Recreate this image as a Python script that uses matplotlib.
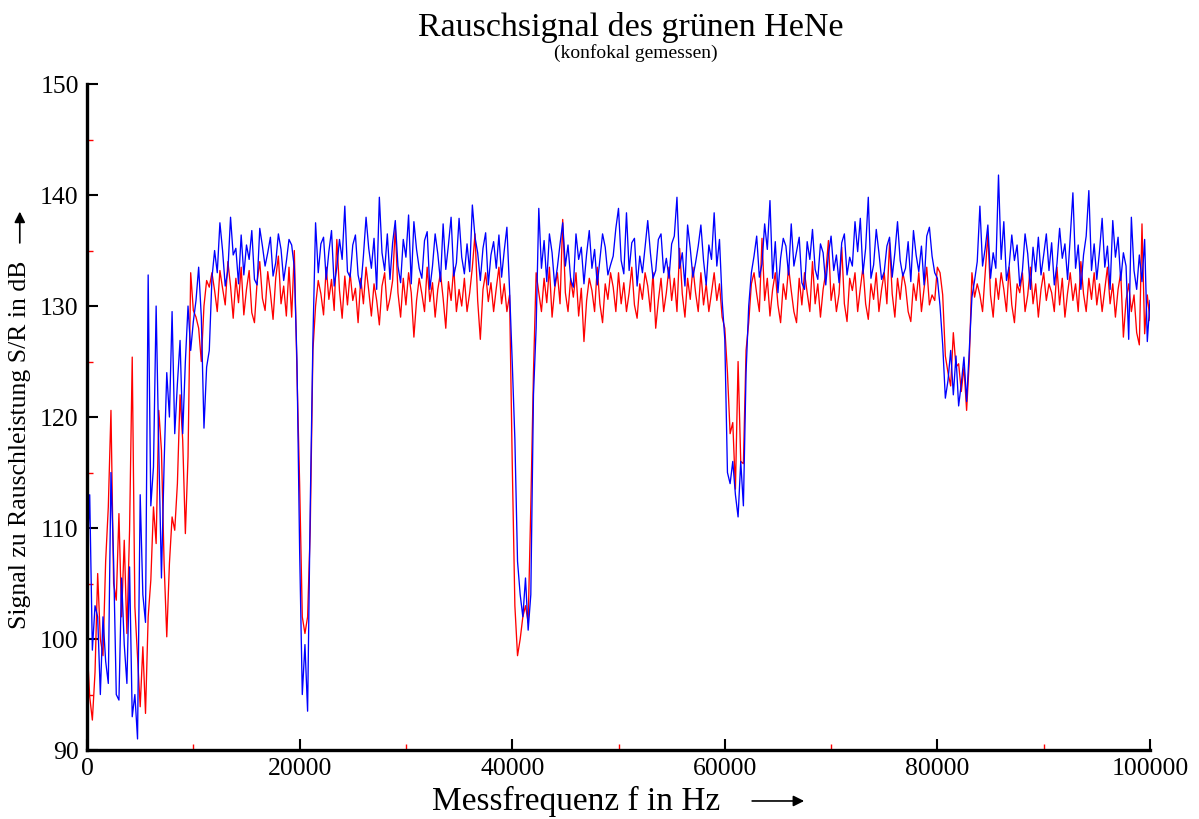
import numpy as np
import matplotlib
matplotlib.use("Agg")
import matplotlib.pyplot as plt
from matplotlib.ticker import MultipleLocator

plt.rcParams['font.family'] = ['Liberation Serif', 'DejaVu Serif']

# Messfrequenz in Hz, Schrittweite 250 Hz
freq = np.arange(0, 100001, 250)

# blaue Messreihe (S/R in dB), je Zeile 5000 Hz
blau = [
    107, 113, 99, 103, 102, 95, 102, 98, 96, 115, 107, 95, 94.5, 105.5, 99.5, 96, 106.5, 93, 95, 91,
    113, 104, 101.5, 132.8, 112, 115.5, 130, 117, 105.5, 115.8, 124, 120, 129.5, 118.5, 123, 126.9, 118.5, 125, 130, 126,
    128.6, 130.5, 133.5, 129, 119, 124.5, 126, 132.5, 135, 133, 137.5, 135, 131.8, 133.2, 138, 134.6, 135.2, 132, 136.4, 132.8,
    135.5, 134.2, 136.8, 132.4, 131.9, 137, 135.4, 133.6, 134.8, 136.2, 132.7, 133.9, 136.5, 135.1, 132.3, 134, 136, 135.5, 133.5, 125,
    108, 95, 99.5, 93.5, 112, 127, 137.5, 133, 135.6, 136.2, 132.4, 134.9, 136.8, 131.8, 133.5, 136, 134.2, 139, 133.1, 132.6,
    135.5, 136.4, 132.8, 131.6, 134.5, 138, 135.2, 133.4, 136.1, 131.5, 139.8, 134.8, 133.2, 136.5, 132.4, 135.7, 137.7, 133.6, 132.1, 136,
    134.4, 138.2, 132, 137.6, 135.1, 133.4, 132.5, 135.9, 136.7, 131.5, 133.6, 136.5, 134.7, 132.2, 137.4, 133.3, 135.5, 138, 132.7, 133.9,
    137.9, 134.4, 132.9, 135.6, 133.1, 139.1, 136.2, 134.8, 132.3, 135.2, 136.6, 131.9, 134.6, 135.8, 133.4, 136.4, 132.6, 135, 137.1, 131.5,
    125, 118, 107, 104, 102, 105.5, 100.8, 104, 122, 128, 138.8, 133.4, 135.9, 132.2, 136.5, 134.8, 131.8, 133.5, 135.6, 137.5,
    133.6, 135.5, 132.4, 131.7, 136.5, 134.2, 135.3, 132, 134.7, 136.8, 133.4, 135.1, 131.9, 134.2, 136.5, 135.3, 132.8, 133.7, 134.5, 137,
    138.8, 134.1, 132.9, 138.4, 133.2, 135.7, 136.1, 131.8, 134.5, 133, 135.3, 137.7, 134.8, 132.5, 133.2, 136, 136.5, 133, 134.3, 132.5,
    135.6, 136.3, 139.8, 133.4, 134.8, 131.8, 137.3, 135.2, 132.6, 133.9, 135.4, 137.3, 134.1, 131.9, 135.5, 134.2, 138.4, 133.6, 136, 130.5,
    127, 115, 114, 116, 113, 111, 116, 112, 124, 130, 133, 134.5, 136.3, 132.6, 133.8, 137.4, 135.1, 139.5, 132.5, 135.8,
    131.2, 134.3, 136.1, 135.4, 132.8, 137.4, 133.6, 134.9, 136.2, 132.1, 131.5, 135.8, 134.2, 136.9, 133.3, 132.4, 135.6, 134.8, 131.9, 134.7,
    136.3, 133.2, 134.6, 132.1, 135.7, 136.5, 132.8, 134.4, 133.6, 137.6, 134.9, 137.9, 132.9, 135.2, 139.8, 132.5, 133.7, 136.9, 134.8, 132.4,
    133.1, 135.4, 136.2, 132.6, 134.8, 137.6, 134.1, 132.7, 133.4, 135.8, 132.2, 136.8, 134.6, 133.1, 135.4, 131.9, 136.3, 137.1, 134.5, 133,
    132.5, 130, 126.5, 121.7, 123.3, 126, 122, 125.5, 121, 123, 125.4, 121.4, 126, 130.8, 132.3, 134, 139, 133.6, 135.2, 137.3,
    132.5, 134.8, 133.4, 141.8, 134.2, 137.6, 132.3, 133.6, 136.4, 134.1, 135.5, 131.8, 133.2, 136.5, 134.7, 131.5, 135.3, 133.1, 136.2, 132.8,
    134.6, 136.5, 133.2, 135.7, 131.9, 133.8, 137, 134.3, 135.6, 132.4, 136.2, 140.2, 133.4, 135.5, 131.5, 134.6, 136.3, 140.4, 133.2, 135.6,
    132.4, 134.9, 137.9, 133.5, 135.4, 131.5, 137.7, 134.4, 136.2, 132.3, 134.8, 133.6, 127, 138, 133.2, 131.5, 134.6, 132.2, 136, 126.8,
    130.5,
]

# rote Messreihe (S/R in dB)
rot = [
    99.5, 94.8, 92.7, 97, 105.9, 100, 98.5, 107, 111.9, 120.6, 105, 103.5, 111.3, 102, 108.9, 100.5, 109.8, 125.4, 102.9, 98.4,
    93.9, 99.3, 93.3, 102, 105.3, 111.9, 108.6, 120.6, 117, 106.8, 100.2, 106.8, 111, 109.8, 114, 122, 117.9, 109.5, 116.4, 133,
    129.6, 129, 128, 125, 130, 132.3, 131.7, 133, 131.4, 129.5, 133.2, 131.6, 130.1, 134, 131.8, 128.9, 132.5, 130.3, 133.5, 129.2,
    131.5, 133.2, 129.4, 128.5, 132.2, 134, 130.7, 129.6, 133.1, 131.2, 128.8, 132.5, 134.5, 130.2, 131.8, 129.1, 133.5, 129, 135, 124,
    114, 102, 100.5, 102, 110, 126, 130, 132.3, 131.1, 129.2, 133.5, 130.6, 132.4, 129.6, 136, 131.4, 128.9, 132.7, 130.1, 133,
    130.5, 131.6, 128.5, 132.5, 130.2, 133.5, 131.4, 129.1, 132, 130.5, 128.3, 131.8, 133, 129.6, 130.7, 132.3, 137.1, 131.2, 129, 132.5,
    130.1, 133, 131.2, 127.2, 130.5, 132.5, 131.1, 129.5, 133.5, 130.4, 132.1, 129, 131.5, 133, 130.7, 128, 132.2, 130.5, 133.5, 129.5,
    131.5, 130, 132.5, 129.5, 131.2, 133.5, 136.5, 130.5, 127, 131.5, 133, 130.4, 132.1, 129.5, 131.6, 133.5, 130.2, 132, 129.5, 131,
    116, 103, 98.5, 100, 102, 103, 101.5, 112, 124, 133, 131.2, 129.5, 132.5, 130.3, 133.5, 129, 131.6, 133, 130.2, 137.8,
    131.2, 129.5, 132.5, 130.8, 133, 129.1, 131.6, 126.8, 130.5, 132.5, 131.4, 129.5, 133.5, 130.2, 128.5, 132, 130.6, 133, 131.7, 129.5,
    133, 130.2, 132.1, 129.5, 131.2, 133.5, 130.1, 128.9, 132, 130.6, 133, 131.8, 129.5, 133, 128, 130.5, 132.5, 129.5, 131.2, 133.5,
    130.5, 132.5, 129.5, 135.2, 131.1, 129, 132.5, 130.6, 133.5, 131.2, 129.5, 133, 130.1, 132, 129.5, 131.2, 133, 130.5, 132, 129,
    128, 124, 118.5, 119.5, 113.5, 125, 116, 115.8, 126, 128.5, 132, 133, 131.1, 129.5, 136.1, 130.5, 132.5, 129.1, 131.5, 133,
    130.1, 128.5, 132, 130.6, 133.5, 131.4, 129.5, 128.5, 132.5, 130.1, 133, 131.2, 129.5, 134, 130.2, 132, 129, 131.5, 133, 135.9,
    130.5, 132, 129.5, 131.1, 135.3, 130.2, 128.6, 132.5, 131.4, 133, 129.5, 131.6, 133.5, 130.2, 128.8, 132, 130.6, 133, 129.5, 131.5,
    133, 130.2, 135.7, 131.1, 129, 132.5, 130.6, 133, 131.8, 129.5, 128.6, 132, 130.5, 133, 129.5, 131.6, 133.5, 130.1, 131, 130.5,
    133.5, 133, 131, 125.5, 124, 122.8, 127.6, 124.5, 124.8, 122.3, 124.5, 120.6, 125, 133, 130.8, 132, 131, 129.5, 133, 136.5,
    131, 129, 132.5, 130.6, 133, 131.5, 129.5, 133.5, 130.1, 128.5, 132, 131.2, 133, 129.5, 131, 133.5, 130.2, 132, 129, 131.5,
    133, 130.5, 132, 131.2, 129.5, 133.5, 130.1, 132.5, 129, 131.2, 133, 130.5, 132, 129.5, 134, 131.1, 129.5, 132.5, 130.6, 133,
    130.1, 132, 129.5, 131.5, 133.5, 130.2, 132, 129, 131.5, 133, 127.2, 130.5, 132, 129.5, 131, 127.6, 126.5, 137.4, 127.5, 131,
    128.7,
]

fig = plt.figure(figsize=(11.99, 8.19), dpi=100)
ax = fig.add_axes([0.0726, 0.0842, 0.8865, 0.8132])

ax.plot(freq, rot, color='#ff0000', lw=0.95)
ax.plot(freq, blau, color='#0000ff', lw=0.95)

ax.set_xlim(0, 100000)
ax.set_ylim(90, 150)
ax.spines['top'].set_visible(False)
ax.spines['right'].set_visible(False)
ax.spines['left'].set_linewidth(2.4)
ax.spines['bottom'].set_linewidth(2.4)

ax.xaxis.set_major_locator(MultipleLocator(20000))
ax.xaxis.set_minor_locator(MultipleLocator(10000))
ax.yaxis.set_major_locator(MultipleLocator(10))
ax.yaxis.set_minor_locator(MultipleLocator(5))
ax.tick_params(which='major', direction='in', length=8, width=1.5, color='black',
               labelsize=18.5, pad=6)
ax.tick_params(which='minor', direction='in', length=4, width=1.0, color='red')

fig.text(0.526, 0.967, 'Rauschsignal des grünen HeNe', ha='center', va='center', fontsize=24.5)
fig.text(0.53, 0.935, '(konfokal gemessen)', ha='center', va='center', fontsize=14)

fig.text(0.4804, 0.022, 'Messfrequenz f in Hz', ha='center', va='center', fontsize=24)
fig.text(0.0165, 0.457, 'Signal zu Rauschleistung S/R in dB', ha='center', va='center',
         rotation=90, fontsize=18.5)

# Pfeile an den Achsenbeschriftungen
ax.annotate('', xy=(0.673, 0.022), xytext=(0.625, 0.022), xycoords='figure fraction',
            textcoords='figure fraction',
            arrowprops=dict(arrowstyle='-|>', color='black', lw=1.2, mutation_scale=16))
ax.annotate('', xy=(0.0165, 0.745), xytext=(0.0165, 0.70), xycoords='figure fraction',
            textcoords='figure fraction',
            arrowprops=dict(arrowstyle='-|>', color='black', lw=1.2, mutation_scale=16))

fig.savefig('out.png', dpi=100)
